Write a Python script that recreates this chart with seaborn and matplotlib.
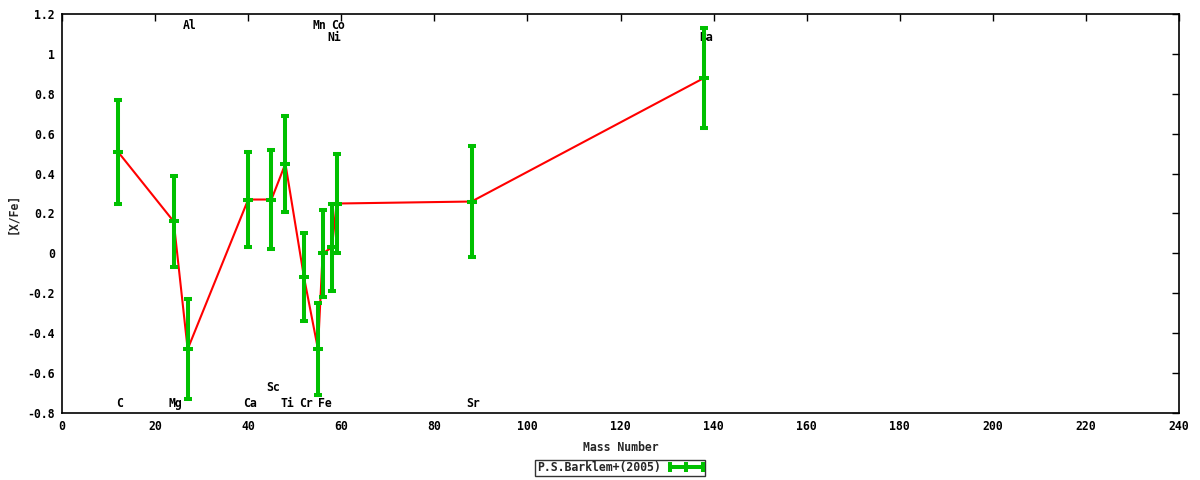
import matplotlib
matplotlib.use("Agg")
import matplotlib.pyplot as plt
import numpy as np
import pandas as pd
import seaborn as sns
from matplotlib.lines import Line2D
from matplotlib.legend_handler import HandlerLine2D
from matplotlib.ticker import MultipleLocator

# element abundances vs mass number
elements = ["C", "Mg", "Al", "Ca", "Sc", "Ti", "Cr", "Mn", "Fe", "Ni", "Co", "Sr", "Ba"]
mass = [12, 24, 27, 40, 45, 48, 52, 55, 56, 58, 59, 88, 138]
xfe = [0.51, 0.16, -0.48, 0.27, 0.27, 0.45, -0.12, -0.48, 0.00, 0.03, 0.25, 0.26, 0.88]
err = [0.26, 0.23, 0.25, 0.24, 0.25, 0.24, 0.22, 0.23, 0.22, 0.22, 0.25, 0.28, 0.25]
label_y = [-0.75, -0.75, 1.14, -0.75, -0.67, -0.75, -0.75, 1.14, -0.75, 1.08, 1.14, -0.75, 1.08]

df = pd.DataFrame({"element": elements, "mass": mass, "xfe": xfe, "err": err, "label_y": label_y})

sns.set_theme(style="white")
plt.rcParams["font.family"] = ["DejaVu Sans Mono"]
plt.rcParams["font.weight"] = "bold"
FS = 8.3

fig = plt.figure(figsize=(12, 4.8), dpi=100)
ax = fig.add_axes([62 / 1200, 1 - 413 / 480, (1179 - 62) / 1200, (413 - 14) / 480])

green = "#00c000"
LW = 2.9
sns.lineplot(data=df, x="mass", y="xfe", ax=ax, color="red", linewidth=1.5,
             sort=False, estimator=None, zorder=2)
ax.errorbar(df["mass"], df["xfe"], yerr=df["err"], fmt="_", color=green,
            ecolor=green, elinewidth=LW, capsize=3.0, capthick=LW,
            markersize=7.2, markeredgewidth=LW, zorder=3)

# element names sit under the error bars
for _, r in df.iterrows():
    ax.text(r["mass"] + 0.4, r["label_y"], r["element"], ha="center", va="center",
            fontsize=FS, fontweight="bold", color="black", zorder=1)

ax.set_xlim(0, 240)
ax.set_ylim(-0.8, 1.2)
ax.xaxis.set_major_locator(MultipleLocator(20))
ax.yaxis.set_major_locator(MultipleLocator(0.2))
ax.yaxis.set_major_formatter(plt.FuncFormatter(lambda v, p: "%g" % round(v, 2)))
ax.tick_params(direction="in", length=5, width=1, top=True, right=True,
               labelsize=FS, colors="black", pad=5)
for lab in ax.get_xticklabels() + ax.get_yticklabels():
    lab.set_fontweight("bold")
for s in ax.spines.values():
    s.set_color("black")
    s.set_linewidth(1.2)
ax.grid(False)

ax.set_xlabel("Mass Number", fontsize=FS, fontweight="bold", labelpad=6)
ax.set_ylabel("[X/Fe]", fontsize=FS, fontweight="bold", labelpad=6)

handle = Line2D([0, 1], [0, 0], color=green, linewidth=LW, marker="|",
                markersize=7, markeredgewidth=LW)
leg = fig.legend(handles=[handle], labels=["P.S.Barklem+(2005)"], loc="center",
                 bbox_to_anchor=(620 / 1200, 1 - 468 / 480), frameon=True,
                 fancybox=False, edgecolor="black", fontsize=FS, markerfirst=False,
                 handlelength=2.9, handletextpad=0.8, borderpad=0.15,
                 handler_map={Line2D: HandlerLine2D(numpoints=3, marker_pad=0)})
leg.get_frame().set_linewidth(1.0)
for t in leg.get_texts():
    t.set_fontweight("bold")

fig.savefig("out.png", dpi=100, facecolor="white")
